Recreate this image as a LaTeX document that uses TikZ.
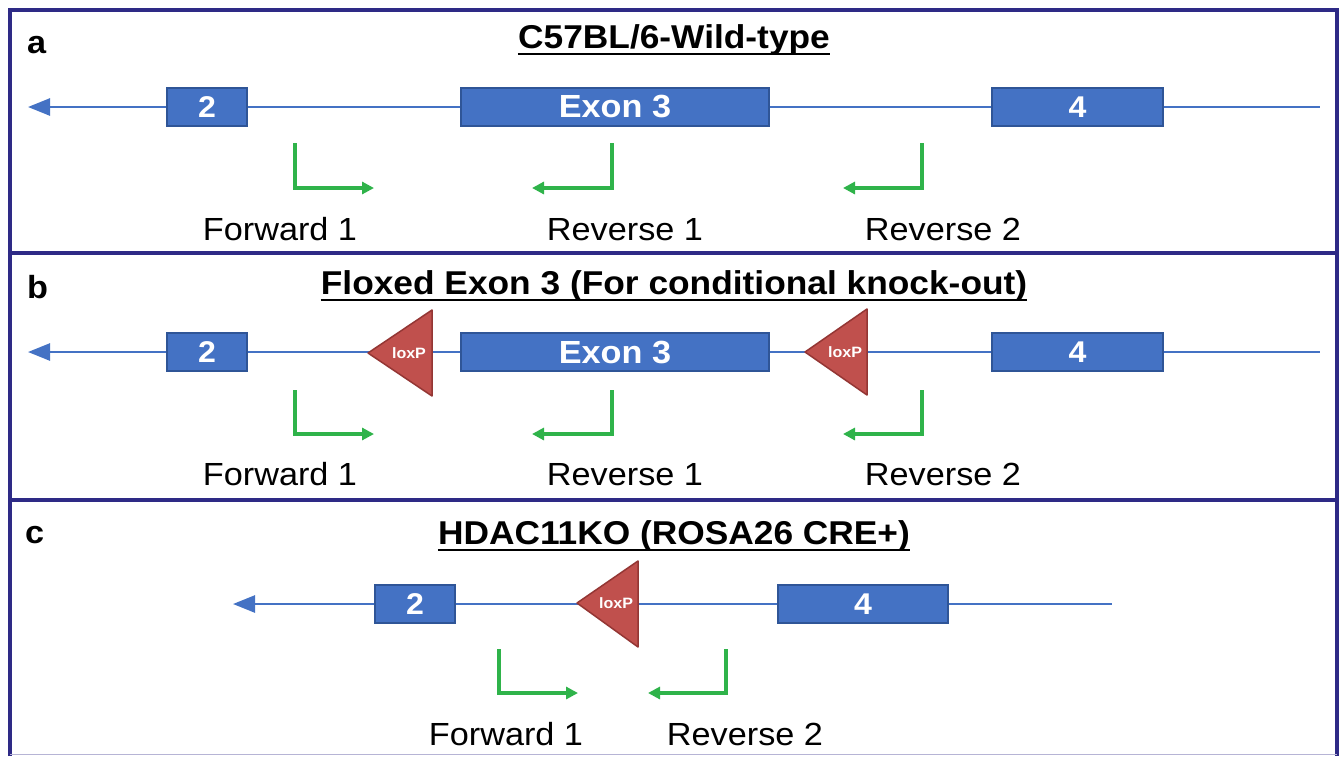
\documentclass[tikz,border=0pt]{standalone}
\usepackage{fontspec}
\setmainfont{Liberation Sans}[FakeStretch=1.07]
\usetikzlibrary{arrows.meta}
\definecolor{exonfill}{HTML}{4472C4}
\definecolor{exonedge}{HTML}{2F5597}
\definecolor{dnacol}{HTML}{4472C4}
\definecolor{loxfill}{HTML}{C0504D}
\definecolor{loxedge}{HTML}{943634}
\definecolor{primcol}{HTML}{2FB34A}
\definecolor{framecol}{HTML}{2E2A86}
\begin{document}
\begin{tikzpicture}[x=1pt,y=-1pt,
  exon/.style={draw=exonedge, fill=exonfill, line width=1.5pt, inner sep=0pt, text=white,
    minimum height=38pt, font=\bfseries\fontsize{30}{34}\selectfont},
  exonbig/.style={exon, font=\bfseries\fontsize{32}{36}\selectfont},
  dna/.style={draw=dnacol, line width=2.6pt},
  dnaarrow/.style={dna, -{Triangle[length=22pt,width=17pt]}},
  lox/.style={draw=loxedge, fill=loxfill, line width=1.5pt, line join=round},
  loxtext/.style={text=white, font=\bfseries\fontsize{15}{17}\selectfont, inner sep=0pt},
  primer/.style={draw=primcol, line width=3.2pt, -{Triangle[length=12pt,width=12pt]}},
  plabel/.style={anchor=base, inner sep=0pt, font=\fontsize{32}{38}\selectfont},
  title/.style={anchor=base, inner sep=0pt, font=\bfseries\fontsize{33}{38}\selectfont},
  uline/.style={draw=black, line width=2.8pt},
  panel/.style={anchor=base west, inner sep=0pt, font=\bfseries\fontsize{32}{38}\selectfont},
  frameline/.style={draw=framecol, line width=3.5pt}]
\useasboundingbox (0,0) rectangle (1344,756);
\fill[white] (0,0) rectangle (1344,756);

% frame
\draw[frameline] (10,756) -- (10,10) -- (1337,10) -- (1337,756);
\draw[frameline] (10,253) -- (1337,253);
\draw[frameline] (10,500) -- (1337,500);
\draw[draw=framecol!35, line width=1.5pt] (10,754.5) -- (1337,754.5);

% ---------------- panel a ----------------
\node[panel] (pa) at (27,53) {a};
\node[title] (ta) at (674,48) {C57BL/6-Wild-type};
\draw[uline] ([yshift=-6pt]ta.base west) -- ([yshift=-6pt]ta.base east);

\coordinate (aL) at (28,107);
\coordinate (aR) at (1320,107);
\node[exon, minimum width=80pt] (a2) at (207,107) {2};
\node[exonbig, minimum width=308pt] (a3) at (615,107) {Exon 3};
\node[exon, minimum width=171pt] (a4) at (1077.5,107) {4};
\draw[dnaarrow] (a2.west) -- (aL);
\draw[dna] (a2.east) -- (a3.west);
\draw[dna] (a3.east) -- (a4.west);
\draw[dna] (a4.east) -- (aR);

\coordinate (af1s) at (295,143); \coordinate (af1e) at (374,188);
\coordinate (ar1s) at (612,143); \coordinate (ar1e) at (532,188);
\coordinate (ar2s) at (922,143); \coordinate (ar2e) at (843,188);
\draw[primer] (af1s) |- (af1e);
\draw[primer] (ar1s) |- (ar1e);
\draw[primer] (ar2s) |- (ar2e);
\node[plabel] (laf1) at (280,240) {Forward 1};
\node[plabel] (lar1) at (625,240) {Reverse 1};
\node[plabel] (lar2) at (943,240) {Reverse 2};

% ---------------- panel b ----------------
\node[panel] (pb) at (27,298) {b};
\node[title] (tb) at (674,294) {Floxed Exon 3 (For conditional knock-out)};
\draw[uline] ([yshift=-6pt]tb.base west) -- ([yshift=-6pt]tb.base east);

\coordinate (bL) at (28,352);
\coordinate (bR) at (1320,352);
\node[exon, minimum width=80pt] (b2) at (207,352) {2};
\node[exonbig, minimum width=308pt] (b3) at (615,352) {Exon 3};
\node[exon, minimum width=171pt] (b4) at (1077.5,352) {4};
\draw[dnaarrow] (b2.west) -- (bL);
\draw[dna] (b2.east) -- (b3.west);
\draw[dna] (b3.east) -- (b4.west);
\draw[dna] (b4.east) -- (bR);

\coordinate (bt1a) at (368,353); \coordinate (bt1b) at (432,310); \coordinate (bt1c) at (432,396);
\draw[lox] (bt1a) -- (bt1b) -- (bt1c) -- cycle;
\node[loxtext] (bl1) at (409,353) {loxP};
\coordinate (bt2a) at (805,352); \coordinate (bt2b) at (867,309); \coordinate (bt2c) at (867,395);
\draw[lox] (bt2a) -- (bt2b) -- (bt2c) -- cycle;
\node[loxtext] (bl2) at (845,352) {loxP};

\coordinate (bf1s) at (295,390); \coordinate (bf1e) at (374,434);
\coordinate (br1s) at (612,390); \coordinate (br1e) at (532,434);
\coordinate (br2s) at (922,390); \coordinate (br2e) at (843,434);
\draw[primer] (bf1s) |- (bf1e);
\draw[primer] (br1s) |- (br1e);
\draw[primer] (br2s) |- (br2e);
\node[plabel] (lbf1) at (280,485) {Forward 1};
\node[plabel] (lbr1) at (625,485) {Reverse 1};
\node[plabel] (lbr2) at (943,485) {Reverse 2};

% ---------------- panel c ----------------
\node[panel] (pc) at (25,543) {c};
\node[title] (tc) at (674,544) {HDAC11KO (ROSA26 CRE+)};
\draw[uline] ([yshift=-6pt]tc.base west) -- ([yshift=-6pt]tc.base east);

\coordinate (cL) at (233,604);
\coordinate (cR) at (1112,604);
\node[exon, minimum width=80pt] (c2) at (415,604) {2};
\node[exon, minimum width=170pt] (c4) at (863,604) {4};
\draw[dnaarrow] (c2.west) -- (cL);
\draw[dna] (c2.east) -- (c4.west);
\draw[dna] (c4.east) -- (cR);

\coordinate (ct1a) at (577,603); \coordinate (ct1b) at (638,561); \coordinate (ct1c) at (638,647);
\draw[lox] (ct1a) -- (ct1b) -- (ct1c) -- cycle;
\node[loxtext] (cl1) at (616,603) {loxP};

\coordinate (cf1s) at (499,649); \coordinate (cf1e) at (578,693);
\coordinate (cr2s) at (726,649); \coordinate (cr2e) at (648,693);
\draw[primer] (cf1s) |- (cf1e);
\draw[primer] (cr2s) |- (cr2e);
\node[plabel] (lcf1) at (506,745) {Forward 1};
\node[plabel] (lcr2) at (745,745) {Reverse 2};
\end{tikzpicture}
\end{document}
